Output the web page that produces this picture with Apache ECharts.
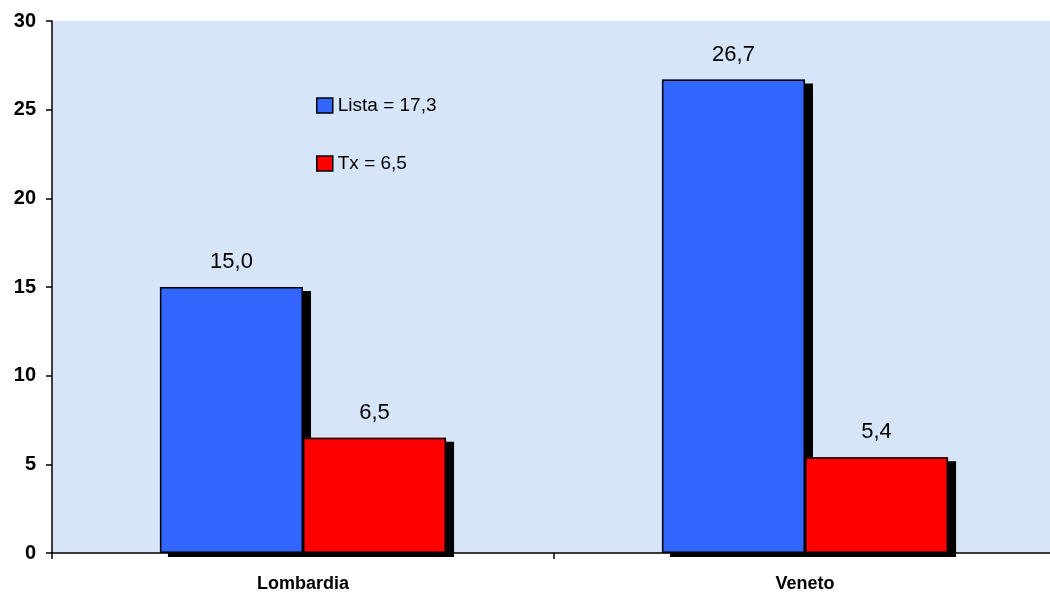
<!DOCTYPE html>
<html>
<head>
<meta charset="utf-8">
<script src="https://cdn.jsdelivr.net/npm/echarts@6/dist/echarts.min.js"></script>
<style>html,body{margin:0;padding:0;background:#fff}#c{width:1050px;height:597px}</style>
</head>
<body>
<div id="c"></div>
<script>
var categories = ['Lombardia', 'Veneto'];
var listaValues = [15.0, 26.7];
var txValues = [6.5, 5.4];
var seriesNames = ['Lista = 17,3', 'Tx = 6,5'];
var yTicks = {min: 0, max: 30, interval: 5};

var fmt = function (p) { return p.value.toFixed(1).replace('.', ','); };
var chart = echarts.init(document.getElementById('c'));
var GAP = '43%';
function fillSeries(name, data, color) {
  return {
    type: 'bar', name: name, data: data, xAxisIndex: 0,
    barGap: '0%', barCategoryGap: GAP,
    label: {show: true, position: 'top', distance: 14, formatter: fmt,
      fontSize: 22, color: '#000'},
    itemStyle: {color: color, borderWidth: 0,
      shadowColor: '#000', shadowBlur: 0, shadowOffsetX: 8, shadowOffsetY: 4}
  };
}
function borderSeries(name, data) {
  return {
    type: 'bar', name: name, data: data, xAxisIndex: 1,
    barGap: '0%', barCategoryGap: GAP, silent: true,
    itemStyle: {color: 'rgba(0,0,0,0)', borderColor: '#000', borderWidth: 1.5}
  };
}
chart.setOption({
  animation: false,
  textStyle: {fontFamily: 'Liberation Sans, Arial, sans-serif'},
  grid: {left: 52, right: -6, top: 21, bottom: 44, show: true,
    outerBoundsMode: 'none', containLabel: false,
    backgroundColor: '#d6e6f8', borderWidth: 0},
  legend: {
    orient: 'vertical', left: 316, top: 96, itemGap: 39, padding: 0,
    itemWidth: 16, itemHeight: 15, icon: 'rect',
    itemStyle: {borderColor: '#000', borderWidth: 1.5},
    textStyle: {fontSize: 19, color: '#000'},
    data: seriesNames
  },
  xAxis: [{
    type: 'category', data: categories,
    axisLine: {lineStyle: {color: '#000', width: 1.5}},
    axisTick: {show: true, length: 6, lineStyle: {color: '#000', width: 1.5}},
    axisLabel: {fontSize: 18, fontWeight: 'bold', color: '#000', margin: 22}
  }, {
    type: 'category', data: categories, show: false
  }],
  yAxis: {
    type: 'value', min: yTicks.min, max: yTicks.max, interval: yTicks.interval,
    splitLine: {show: false},
    axisLine: {show: true, lineStyle: {color: '#000', width: 1.5}},
    axisTick: {show: true, length: 6, lineStyle: {color: '#000', width: 1.5}},
    axisLabel: {fontSize: 20, fontWeight: 'bold', color: '#000', margin: 16}
  },
  series: [
    fillSeries(seriesNames[0], listaValues, '#3366ff'),
    fillSeries(seriesNames[1], txValues, '#ff0000'),
    borderSeries('b1', listaValues),
    borderSeries('b2', txValues)
  ]
});
</script>
</body>
</html>
